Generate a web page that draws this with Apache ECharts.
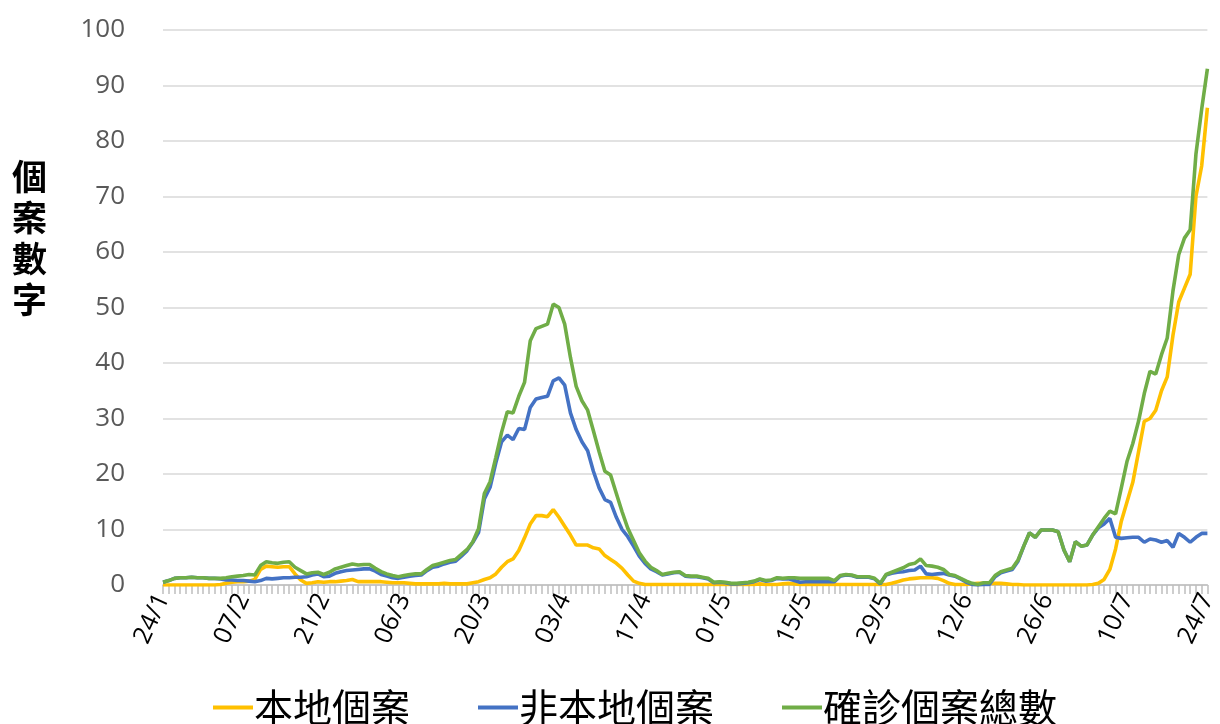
<!DOCTYPE html>
<html><head><meta charset="utf-8">
<script src="https://cdn.jsdelivr.net/npm/echarts@6/dist/echarts.min.js"></script>
<style>html,body{margin:0;padding:0;background:#fff}#c{width:1220px;height:724px}</style>
</head><body><div id="c"></div>
<script>
// Dates 24/1 .. 24/7 (daily)
const monthDays = [[1,24,31],[2,1,29],[3,1,31],[4,1,30],[5,1,31],[6,1,30],[7,1,24]];
const categories = [];
monthDays.forEach(([m,s,e])=>{for(let d=s;d<=e;d++){categories.push((d<10?'0':'')+d+'/'+m);}});
const tickLabels = ['24/1','07/2','21/2','06/3','20/3','03/4','17/4','01/5','15/5','29/5','12/6','26/6','10/7','24/7'];
const seriesNames = ['本地個案','非本地個案','確診個案總數'];
const yTicks = [0,10,20,30,40,50,60,70,80,90,100];

const local = [
0,0,0,0,0,0,0,0,0,0,
0.1,0.3,0.5,0.6,0.6,0.7,1.0,2.8,3.4,3.3,
3.2,3.3,3.3,2.0,0.9,0.3,0.4,0.6,0.5,0.6,
0.6,0.7,0.8,1.0,0.6,0.6,0.6,0.6,0.6,0.5,
0.4,0.4,0.4,0.3,0.2,0.2,0.2,0.2,0.2,0.3,
0.2,0.2,0.2,0.2,0.4,0.6,1.0,1.3,2.0,3.2,
4.2,4.7,6.2,8.5,11.0,12.5,12.5,12.3,13.6,12.2,
10.6,9.0,7.2,7.2,7.2,6.7,6.5,5.3,4.6,3.9,
3.0,1.8,0.7,0.3,0.1,0.1,0.1,0.1,0.1,0.1,
0.1,0.1,0.1,0.1,0.1,0.1,0.1,0.1,0.1,0.1,
0.1,0.1,0.1,0.1,0.2,0.1,0.1,0.1,0.2,0.3,
0.2,0.1,0.1,0.1,0.1,0.1,0.1,0.1,0.1,0.1,
0.1,0.1,0.1,0.1,0.1,0.1,0.1,0.3,0.6,0.9,
1.1,1.2,1.3,1.3,1.3,1.2,0.8,0.3,0.1,0.1,
0.1,0.2,0.3,0.3,0.3,0.3,0.3,0.2,0.1,0.1,
0,0,0,0,0,0,0,0,0,0,
0,0,0.1,0.3,1.0,2.8,6.5,11.5,15.0,18.5,
24.0,29.5,30.0,31.5,35.0,37.5,45.0,51.0,53.5,56.0,
70.0,75.5,86.0];

const nonLocal = [
0.5,0.8,1.2,1.3,1.3,1.4,1.3,1.3,1.2,1.2,
1.1,0.9,0.9,0.8,0.8,0.7,0.6,0.8,1.2,1.1,
1.2,1.3,1.3,1.4,1.4,1.5,1.8,2.0,1.5,1.6,
2.1,2.4,2.6,2.7,2.8,2.9,2.9,2.5,1.9,1.6,
1.3,1.2,1.4,1.6,1.7,1.8,2.6,3.2,3.4,3.8,
4.1,4.3,5.2,6.2,7.7,9.5,15.5,17.6,22.0,25.8,
27.0,26.2,28.2,28.0,32.0,33.5,33.8,34.0,36.8,37.3,
36.0,31.0,28.0,25.8,24.2,20.5,17.5,15.4,14.9,12.2,
10.0,8.7,7.0,5.2,3.9,2.9,2.4,1.8,2.0,2.2,
2.3,1.6,1.5,1.5,1.3,1.1,0.4,0.5,0.4,0.2,
0.2,0.3,0.4,0.6,1.0,0.7,0.8,1.2,1.1,1.1,
0.8,0.5,0.6,0.6,0.6,0.6,0.6,0.6,1.6,1.8,
1.7,1.4,1.4,1.4,1.1,0.2,1.8,2.1,2.3,2.4,
2.6,2.7,3.4,2.0,1.9,2.0,2.1,1.8,1.6,1.1,
0.5,0.1,0.0,0.1,0.1,1.5,2.2,2.5,2.8,4.3,
7.0,9.4,8.6,9.9,9.9,9.9,9.6,6.3,4.2,7.8,
7.0,7.2,9.0,10.3,11.0,12.0,8.6,8.4,8.5,8.6,
8.6,7.7,8.3,8.1,7.7,8.0,6.8,9.3,8.6,7.7,
8.6,9.3,9.3];

const total = [
0.5,0.8,1.2,1.3,1.3,1.4,1.3,1.3,1.2,1.2,
1.2,1.3,1.5,1.6,1.7,1.9,1.8,3.5,4.2,4.0,
3.9,4.1,4.2,3.2,2.6,2.0,2.2,2.3,1.9,2.3,
2.9,3.2,3.5,3.8,3.6,3.7,3.7,3.0,2.4,2.0,
1.7,1.5,1.7,1.9,2.0,2.0,2.8,3.5,3.8,4.1,
4.4,4.6,5.5,6.4,7.8,10.2,16.5,18.6,23.0,27.5,
31.2,31.0,34.0,36.5,44.0,46.2,46.6,47.0,50.6,50.0,
47.0,41.0,35.8,33.2,31.5,27.8,24.0,20.5,19.8,16.5,
13.2,10.2,8.0,5.8,4.3,3.2,2.6,1.9,2.1,2.3,
2.4,1.7,1.6,1.6,1.4,1.2,0.5,0.6,0.5,0.3,
0.3,0.4,0.5,0.7,1.1,0.8,0.9,1.3,1.2,1.3,
1.3,1.2,1.2,1.2,1.2,1.2,1.2,0.8,1.7,1.9,
1.8,1.5,1.5,1.5,1.2,0.3,1.9,2.3,2.7,3.1,
3.7,3.9,4.7,3.5,3.4,3.2,2.8,1.9,1.7,1.2,
0.7,0.3,0.1,0.4,0.4,1.7,2.4,2.7,3.0,4.5,
7.0,9.4,8.6,9.9,9.9,9.9,9.6,6.3,4.2,7.8,
7.0,7.2,9.0,10.5,12.0,13.3,12.8,17.5,22.3,25.5,
29.5,34.5,38.5,38.0,41.5,44.5,53.0,59.5,62.5,64.0,
77.6,85.7,93.0];

const colors = ['#FFC000','#4472C4','#70AD47'];
const chart = echarts.init(document.getElementById('c'), null, {renderer:'canvas'});
const mk = (name, data, color) => ({
  name, type:'line', data, symbol:'none', smooth:false, animation:false,
  lineStyle:{width:3.6, color}, itemStyle:{color}
});
chart.setOption({
  animation:false,
  backgroundColor:'#fff',
  grid:{left:163, right:8, top:30, bottom:139, containLabel:false},
  xAxis:{
    type:'category', data:categories, boundaryGap:false,
    axisLine:{show:true, lineStyle:{color:'#bfbfbf', width:1.5}},
    axisTick:{show:true, interval:0, length:9, lineStyle:{color:'#bfbfbf', width:1.5}},
    axisLabel:{
      interval:0, rotate:65, fontSize:25, color:'#000', margin:10,
      fontFamily:'Open Sans, Noto Sans, sans-serif',
      formatter:(v)=> tickLabels.indexOf(v) >= 0 ? v : ''
    },
    splitLine:{show:false}
  },
  yAxis:{
    type:'value', min:yTicks[0], max:yTicks[yTicks.length-1], interval:10,
    axisLine:{show:false}, axisTick:{show:false},
    axisLabel:{fontSize:26, color:'#595959', margin:38, fontFamily:'Open Sans, Noto Sans, sans-serif'},
    splitLine:{lineStyle:{color:'#d9d9d9', width:1.5}}
  },
  legend:{
    data:seriesNames, top:683, left:208, icon:'rect', itemWidth:40, itemHeight:4,
    itemGap:68,
    textStyle:{fontSize:39, color:'#000', fontFamily:'Noto Sans CJK TC', padding:[0,0,0,-4]}
  },
  graphic:[{
    type:'text', left:12, top:156,
    style:{text:'個\n案\n數\n字', fontSize:35, lineHeight:41, fontWeight:'bold', fill:'#000', fontFamily:'Noto Sans CJK TC'}
  }],
  series:[mk(seriesNames[0], local, colors[0]), mk(seriesNames[1], nonLocal, colors[1]), mk(seriesNames[2], total, colors[2])]
});
</script></body></html>
